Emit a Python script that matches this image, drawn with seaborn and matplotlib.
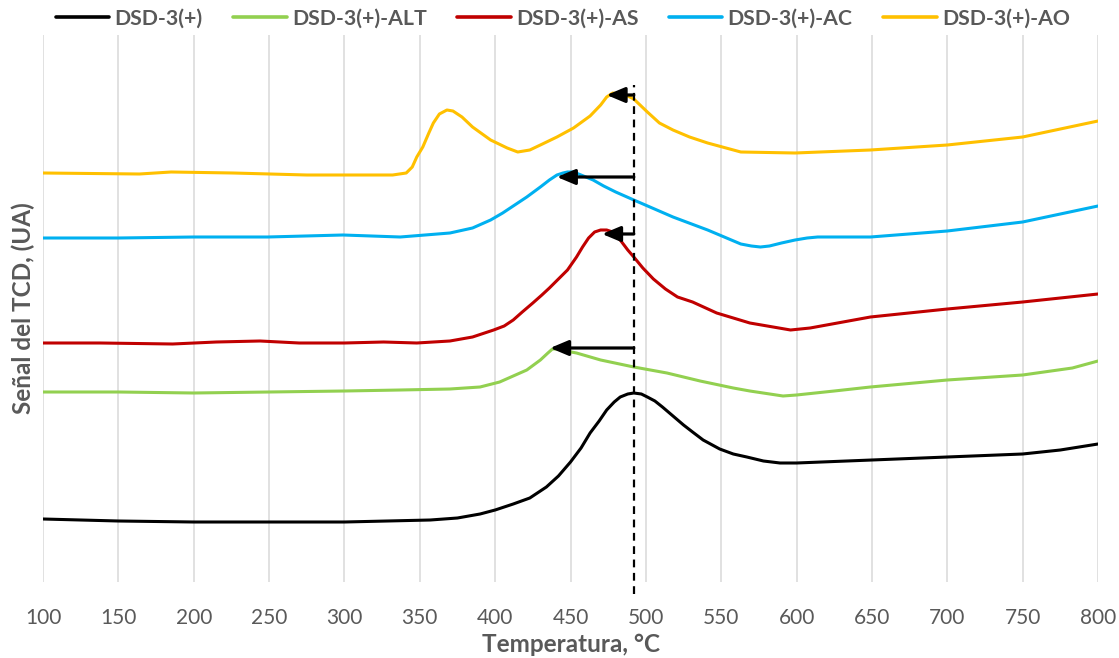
import numpy as np
import pandas as pd
import matplotlib
matplotlib.use("Agg")
import matplotlib.pyplot as plt
import seaborn as sns

# ---- data (arbitrary TCD units) ----
series_names = ["DSD-3(+)", "DSD-3(+)-ALT", "DSD-3(+)-AS", "DSD-3(+)-AC", "DSD-3(+)-AO"]
series_colors = ["#000000", "#92D050", "#C00000", "#00B0F0", "#FFC000"]

t_base = [100, 150, 200, 250, 300, 357, 375, 390, 400, 412, 423, 434, 442, 450, 457, 463, 469,
          474, 479, 483, 488, 492, 497, 501, 506, 511, 518, 525, 531, 538, 549, 558, 567, 578,
          589, 600, 650, 700, 750, 775, 800]
s_base = [0.63, 0.61, 0.60, 0.60, 0.60, 0.62, 0.64, 0.68, 0.72, 0.78, 0.84, 0.95, 1.06, 1.20,
          1.34, 1.49, 1.61, 1.72, 1.80, 1.85, 1.88, 1.89, 1.88, 1.85, 1.81, 1.75, 1.66, 1.57,
          1.50, 1.42, 1.33, 1.28, 1.25, 1.21, 1.19, 1.19, 1.22, 1.25, 1.28, 1.32, 1.38]

t_alt = [100, 150, 200, 250, 300, 337, 370, 390, 403, 412, 421, 430, 435, 438, 442, 447, 454,
         470, 492, 514, 536, 558, 569, 591, 600, 625, 649, 700, 750, 783, 800]
s_alt = [1.90, 1.90, 1.89, 1.90, 1.91, 1.92, 1.93, 1.95, 2.00, 2.06, 2.12, 2.22, 2.29, 2.33,
         2.33, 2.31, 2.29, 2.22, 2.15, 2.09, 2.01, 1.94, 1.91, 1.86, 1.87, 1.91, 1.95, 2.02,
         2.07, 2.14, 2.21]

t_as = [100, 138, 186, 215, 244, 270, 300, 326, 348, 370, 385, 399, 406, 412, 418, 425, 431,
        436, 442, 448, 454, 458, 462, 466, 470, 474, 478, 483, 488, 492, 498, 505, 513, 521,
        531, 547, 569, 596, 609, 649, 700, 750, 800]
s_as = [2.39, 2.39, 2.38, 2.40, 2.41, 2.39, 2.39, 2.40, 2.39, 2.41, 2.45, 2.52, 2.56, 2.62,
        2.70, 2.79, 2.87, 2.94, 3.03, 3.12, 3.25, 3.35, 3.44, 3.50, 3.52, 3.52, 3.50, 3.42,
        3.32, 3.25, 3.14, 3.03, 2.93, 2.85, 2.80, 2.69, 2.59, 2.52, 2.54, 2.65, 2.73, 2.80,
        2.88]

t_ac = [100, 150, 200, 249, 299, 337, 370, 385, 397, 405, 413, 421, 430, 436, 441, 445, 448,
        452, 457, 465, 472, 480, 492, 518, 541, 563, 570, 576, 582, 590, 599, 607, 614, 649,
        700, 750, 800]
s_ac = [3.44, 3.44, 3.45, 3.45, 3.47, 3.45, 3.49, 3.54, 3.62, 3.69, 3.77, 3.85, 3.95, 4.02,
        4.07, 4.09, 4.10, 4.10, 4.07, 4.02, 3.96, 3.90, 3.82, 3.65, 3.52, 3.38, 3.36, 3.35,
        3.36, 3.39, 3.42, 3.44, 3.45, 3.45, 3.51, 3.60, 3.76]

t_ao = [100, 164, 185, 226, 275, 332, 341, 345, 348, 352, 356, 359, 363, 368, 372, 378, 385,
        397, 408, 415, 423, 430, 441, 452, 463, 470, 474, 478, 483, 488, 492, 501, 509, 518,
        529, 541, 563, 599, 649, 700, 750, 800]
s_ao = [4.09, 4.08, 4.10, 4.09, 4.07, 4.07, 4.09, 4.15, 4.25, 4.35, 4.49, 4.59, 4.68, 4.72,
        4.71, 4.65, 4.55, 4.42, 4.34, 4.30, 4.32, 4.37, 4.45, 4.54, 4.66, 4.77, 4.85, 4.89,
        4.88, 4.86, 4.83, 4.70, 4.59, 4.52, 4.45, 4.39, 4.30, 4.29, 4.32, 4.37, 4.45, 4.61]

# reference temperature (dashed line) and shifted peak arrows
t_ref = 492
arrow_tips = [474, 441, 471, 436.5]
arrow_levels = [4.87, 4.05, 3.48, 2.34]

x_ticks = list(range(100, 801, 50))

# ---- build long-form table ----
frames = []
for name, t, s in zip(series_names,
                      [t_base, t_alt, t_as, t_ac, t_ao],
                      [s_base, s_alt, s_as, s_ac, s_ao]):
    frames.append(pd.DataFrame({"Temperatura": t, "Senal": s, "Serie": name}))
df = pd.concat(frames, ignore_index=True)

sns.set_theme(style="white")
plt.rcParams["font.family"] = ["Lato", "DejaVu Sans"]

fig = plt.figure(figsize=(11.19, 6.58), dpi=100)
ax = fig.add_axes([43 / 1119, 76 / 658, 1055 / 1119, 547 / 658])

sns.lineplot(data=df, x="Temperatura", y="Senal", hue="Serie", hue_order=series_names,
             palette=series_colors, estimator=None, sort=True, linewidth=2.2, ax=ax,
             legend=True, solid_joinstyle="round", solid_capstyle="round")

ax.set_xlim(100, 800)
ax.set_ylim(0, 5.47)
ax.set_xticks(x_ticks)
ax.set_yticks([])
ax.grid(axis="x", color="#d9d9d9", linewidth=1.1)
ax.grid(axis="y", visible=False)
for sp in ax.spines.values():
    sp.set_visible(False)
ax.tick_params(axis="x", length=0, pad=19, labelsize=15, labelcolor="#595959")

ax.set_xlabel("Temperatura, °C", fontsize=17.5, fontweight="bold", color="#595959",
              labelpad=3)
ax.set_ylabel("Señal del TCD, (UA)", fontsize=17.5, fontweight="bold", color="#595959",
              labelpad=6)

# dashed reference line
ax.plot([t_ref, t_ref], [-0.12, 4.97], color="black", linewidth=1.6,
        linestyle=(0, (3.5, 2.5)), clip_on=False, zorder=5)

# arrows
for tip, lev in zip(arrow_tips, arrow_levels):
    ax.annotate("", xy=(tip, lev), xytext=(t_ref, lev),
                arrowprops=dict(arrowstyle="-|>,head_length=1.0,head_width=0.42",
                                color="black", lw=2.3, mutation_scale=11,
                                shrinkA=0, shrinkB=0),
                zorder=6)

# legend
handles, labels = ax.get_legend_handles_labels()
ax.get_legend().remove()
leg = fig.legend(handles, labels, loc="center", bbox_to_anchor=(0.503, 0.972), ncol=5,
                 frameon=False, prop={"family": ["Lato", "DejaVu Sans"], "weight": "bold",
                                      "size": 15.3},
                 handlelength=2.5, handletextpad=0.25, columnspacing=1.45)
for txt in leg.get_texts():
    txt.set_color("#595959")
for ln in leg.get_lines():
    ln.set_linewidth(2.6)

fig.savefig("out.png", dpi=100)
